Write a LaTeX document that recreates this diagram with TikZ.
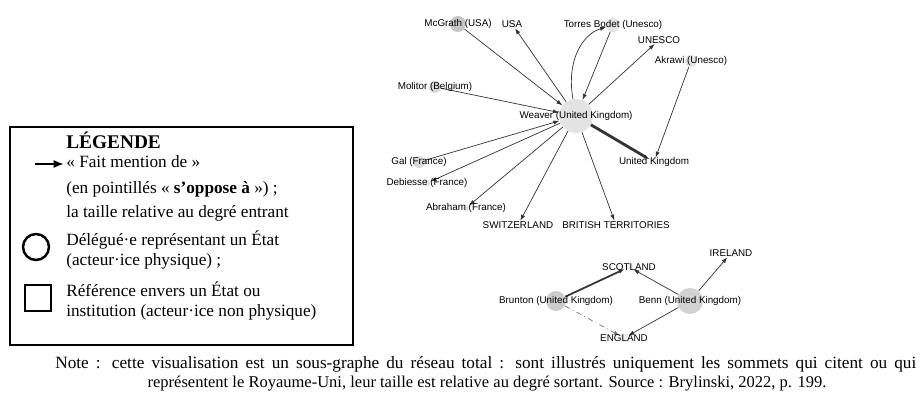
\documentclass[tikz,border=0pt]{standalone}
\usepackage{fontspec}
\setmainfont{Liberation Serif}
\newfontfamily\graphfont{Liberation Sans}
\usetikzlibrary{arrows.meta}

\tikzset{
	actor/.style = {circle, inner sep = 0pt, fill = gray!30},
	entity/.style = {rectangle, inner sep = 0pt, minimum size = 1.6mm, fill = gray!12},
	tag/.style = {font = \graphfont\fontsize{5.6}{6}\selectfont, inner sep = 0pt},
	edge/.style = {draw = black!80, line width = 0.4pt, -{Latex[length = 3.4pt, width = 2.4pt]}},
	legendline/.style = {anchor = west, inner sep = 0pt, font = \fontsize{9.8}{11}\selectfont},
	notetext/.style = {inner sep = 0pt, font = \fontsize{9.4}{11}\selectfont}
}

\begin{document}

\begin{tikzpicture}[x = 0.02cm, y = -0.02cm]

	\useasboundingbox (0, 0) rectangle (922, 392);

	% Actors (circles, size relative to out-degree)
	
	\foreach \n/\x/\y/\d/\c in {mcgrath/458/24/16/45, torres/613/25/14/22, akrawi/691/61/12/22, molitor/435/87/12/30, weaver/576/116/34/22, gal/419/162/12/30, debiesse/427/183/7/20, abraham/466/208/7/20, brunton/556/301/20/40, benn/690/301/26/35}
		\node [actor, minimum size = \d * 0.2mm, fill = gray!\c] (\n) at (\x, \y) {};
		
	% States and institutions (squares)
	
	\foreach \n/\x/\y in {usa/512/24, unesco/659/40, uk/654/162, switzerland/518/225, british/616/225, scotland/629/267, ireland/731/253, england/624/338}
		\node [entity] (\n) at (\x, \y) {};
		
	% Mentions around Weaver
	
	\foreach \s in {mcgrath, torres, molitor, gal}
		\draw [edge] (\s) -- (weaver);
		
	\foreach \t in {usa, unesco, debiesse, abraham, switzerland, british}
		\draw [edge] (weaver) -- (\t);
		
	\draw [edge] (weaver) .. controls (566, 60) and (583, 34) .. (torres);
	\draw [edge, line width = 1.6pt] (weaver) -- (uk);
	\draw [edge] (akrawi) -- (uk);
	
	% Brunton and Benn
	
	\draw [edge, line width = 1pt] (brunton) -- (scotland);
	\draw [edge, dash dot, draw = black!55] (brunton) -- (england);
	
	\foreach \t in {scotland, ireland, england}
		\draw [edge] (benn) -- (\t);
		
	% Labels
	
	\foreach \n/\s in {mcgrath/McGrath (USA), torres/Torres Bodet (Unesco), akrawi/Akrawi (Unesco), molitor/Molitor (Belgium), weaver/Weaver (United Kingdom), gal/Gal (France), debiesse/Debiesse (France), abraham/Abraham (France), brunton/Brunton (United Kingdom), benn/Benn (United Kingdom), usa/USA, unesco/UNESCO, uk/United Kingdom, switzerland/SWITZERLAND, british/BRITISH TERRITORIES, scotland/SCOTLAND, ireland/IRELAND, england/ENGLAND}
		\node [tag] at (\n) {\s};
		
	% Legend
	
	\draw [line width = 0.6pt] (10, 127) rectangle (353, 345);
	
	\node [legendline, font = \bfseries\fontsize{11}{12}\selectfont] (legtitle) at (66, 140) {LÉGENDE};
	\node [legendline] (legmention) at (66, 162) {« Fait mention de »};
	\node [legendline] (legdashed) at (66, 189) {(en pointillés « \textbf{s’oppose à} ») ;};
	\node [legendline] (legsize) at (66, 213) {la taille relative au degré entrant};
	\node [legendline] (legactor) at (66, 240) {Délégué·e représentant un État};
	\node [legendline] (legactorb) at (66, 261) {(acteur·ice physique) ;};
	\node [legendline] (legentity) at (66, 289) {Référence envers un État ou};
	\node [legendline] (legentityb) at (66, 312) {institution (acteur·ice non physique)};
	
	\coordinate (arrowstart) at (35, 164);
	\draw [line width = 0.6pt, -{Latex[length = 5.5pt, width = 4.5pt]}, shorten > = 1.5pt] (arrowstart) -- (legmention.west |- arrowstart);
	
	\node [circle, draw, line width = 1.4pt, minimum size = 5.2mm, inner sep = 0pt] (legcircle) at (36, 247) {};
	\node [rectangle, draw, line width = 1.4pt, minimum size = 5.2mm, inner sep = 0pt] (legsquare) at (38, 298) {};
	
	% Note
	
	\node [notetext, anchor = west, font = \fontsize{9.8}{11}\selectfont] (note1) at (55, 364) {\makebox[490pt][s]{Note : cette visualisation est un sous-graphe du réseau total : sont illustrés uniquement les sommets qui citent ou qui}};
	\node [notetext] (note2) at (487, 384) {représentent le Royaume-Uni, leur taille est relative au degré sortant. Source : Brylinski, 2022, p. 199.};

\end{tikzpicture}

\end{document}
